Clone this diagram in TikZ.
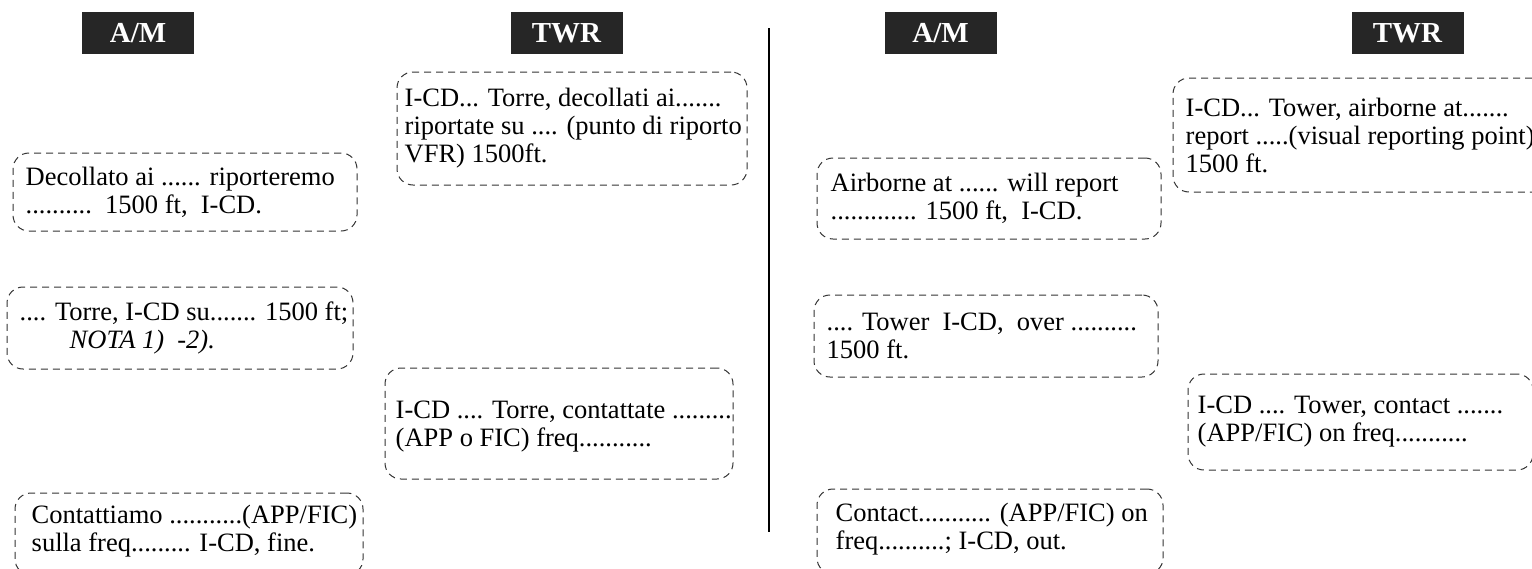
\documentclass[tikz,border=0pt]{standalone}
\usepackage{fontspec}
\setmainfont{Liberation Serif}
\usetikzlibrary{fit}

\tikzset{
  msgbox/.style={draw=black!80, line width=1pt, dash pattern=on 7pt off 5pt,
    rounded corners=16pt, inner sep=0pt},
  msgtext/.style={anchor=west, align=left, inner sep=0pt,
    font=\fontsize{26.5}{28}\selectfont},
  header/.style={fill=black!85, text=white, inner sep=0pt,
    minimum width=112pt, minimum height=42pt,
    font=\bfseries\fontsize{29}{32}\selectfont},
  divider/.style={line width=1.5pt, draw=black}
}

\begin{document}
\begin{tikzpicture}[x=1pt, y=-1pt]
\useasboundingbox (0,0) rectangle (1532,568);

% column headers
\node[header] (amL)  at (138,33)  {A/M};
\node[header] (twrL) at (566.5,33) {TWR};
\node[header] (amR)  at (940.5,33) {A/M};
\node[header] (twrR) at (1407.5,33) {TWR};

% divider between the Italian and English phraseology
\coordinate (vtop) at (769,28);
\coordinate (vbot) at (769,532);
\draw[divider] (vtop) -- (vbot);

% ---- Italian: aircraft side
\node[msgbox, fit={(13,153) (357,231)}] (l1) {};
\node[msgtext] (l1t) at ([xshift=13pt]l1.west)
  {Decollato ai ...... riporteremo\\..........\ \ 1500 ft,\ \ I-CD.};

\node[msgbox, fit={(7,287) (353,369)}] (l2) {};
\node[msgtext] (l2t) at ([xshift=13pt]l2.west)
  {.... Torre, I-CD su....... 1500 ft;\\\hspace*{50pt}\textit{NOTA 1)\ \ -2).}};

\node[msgbox, fit={(15,493) (363,575)}] (l3) {};
\node[msgtext] (l3t) at ([xshift=17pt,yshift=3pt]l3.west)
  {Contattiamo ...........(APP/FIC)\\sulla freq......... I-CD, fine.};

% ---- Italian: tower side
\node[msgbox, fit={(397,72) (747,185)}] (t1) {};
\node[msgtext] (t1t) at ([xshift=8pt]t1.west)
  {I-CD... Torre, decollati ai.......\\riportate su .... (punto di riporto\\VFR) 1500ft.};

\node[msgbox, fit={(385,368) (733,479)}] (t2) {};
\node[msgtext] (t2t) at ([xshift=11pt,yshift=-3pt]t2.west)
  {I-CD .... Torre, contattate .........\\(APP o FIC) freq...........};

% ---- English: aircraft side
\node[msgbox, fit={(817,158) (1161,239)}] (r1) {};
\node[msgtext] (r1t) at ([xshift=14pt]r1.west)
  {Airborne at ...... will report\\............. 1500 ft,\ \ I-CD.};

\node[msgbox, fit={(814,295) (1158,377)}] (r2) {};
\node[msgtext] (r2t) at ([xshift=13pt]r2.west)
  {.... Tower\ \ I-CD,\ \ over ..........\\1500 ft.};

\node[msgbox, fit={(817,489) (1163,574)}] (r3) {};
\node[msgtext] (r3t) at ([xshift=19pt,yshift=2pt]r3.west)
  {Contact........... (APP/FIC) on\\freq..........; I-CD, out.};

% ---- English: tower side
\node[msgbox, fit={(1173,78) (1560,192)}] (rt1) {};
\node[msgtext] (rt1t) at ([xshift=13pt]rt1.west)
  {I-CD... Tower, airborne at.......\\report .....(visual reporting point)\\1500 ft.};

\node[msgbox, fit={(1188,374) (1533,470)}] (rt2) {};
\node[msgtext] (rt2t) at ([xshift=10pt]rt2.west)
  {I-CD .... Tower, contact .......\\(APP/FIC) on freq...........};
\end{tikzpicture}
\end{document}
